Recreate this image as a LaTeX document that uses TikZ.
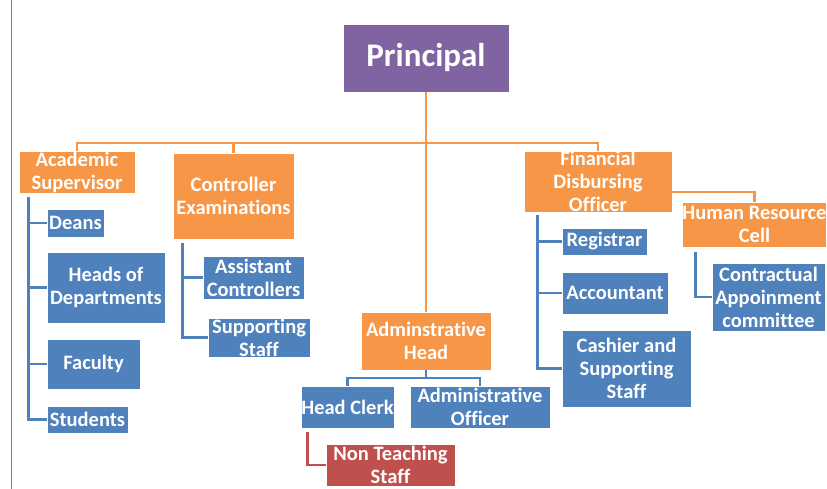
\documentclass[tikz,border=0pt]{standalone}
\usepackage{fontspec}
\setmainfont[Ligatures=NoCommon]{Carlito}
\definecolor{orng}{HTML}{F79646}
\definecolor{blu}{HTML}{4F81BD}
\definecolor{purp}{HTML}{8064A2}
\definecolor{rd}{HTML}{C0504D}
\tikzset{bx/.style = {draw=white, line width=0.4pt, inner sep=0pt, text=white, align=center,
                      font=\fontsize{20.5}{23}\selectfont\bfseries},
           ob/.style = {bx, fill=orng},
           bb/.style = {bx, fill=blu},
           rb/.style = {bx, fill=rd},
           pb/.style = {bx, fill=purp, font=\fontsize{33}{36}\selectfont\bfseries},
           ol/.style = {draw=orng, line width=2.8pt},
           bl/.style = {draw=blu, line width=2.8pt},
           rl/.style = {draw=rd, line width=2.8pt}}
\begin{document}
\begin{tikzpicture}[x=1pt, y=-1pt]
    \useasboundingbox (0,0) rectangle (827,489);
    \draw[gray, line width=0.8pt] (11,0) -- (11,489);
    \node[pb, minimum width=166pt, minimum height=68pt] (prin) at (426,58) {Principal};
    \node[ob, minimum width=116pt, minimum height=42pt] (acad) at (77,172) {Academic\\Supervisor};
    \node[ob, minimum width=121pt, minimum height=86pt] (ctrl) at (233.5,196) {Controller\\Examinations};
    \node[ob, minimum width=148pt, minimum height=61pt] (fin) at (598,181.5) {Financial\\Disbursing\\Officer};
    \node[ob, minimum width=143pt, minimum height=45pt] (hr) at (754.5,224.5) {Human Resource\\Cell};
    \node[ob, minimum width=130pt, minimum height=58pt] (adm) at (426,341) {Adminstrative\\Head};
    \node[bb, minimum width=57pt, minimum height=28pt] (deans) at (75.5,223) {Deans};
    \node[bb, minimum width=118pt, minimum height=71pt] (hod) at (106,287.5) {Heads of\\Departments};
    \node[bb, minimum width=93pt, minimum height=50pt] (fac) at (93.5,364) {Faculty};
    \node[bb, minimum width=81pt, minimum height=27pt] (stud) at (87.5,419.5) {Students};
    \node[bb, minimum width=101pt, minimum height=43pt] (asst) at (253.5,277.5) {Assistant\\Controllers};
    \node[bb, minimum width=102pt, minimum height=39pt] (sup) at (259,337.5) {Supporting\\Staff};
    \node[bb, minimum width=85pt, minimum height=27pt] (reg) at (604.5,241.5) {Registrar};
    \node[bb, minimum width=106pt, minimum height=42pt] (acc) at (615,293) {Accountant};
    \node[bb, minimum width=129pt, minimum height=77pt] (cash) at (626.5,368.5) {Cashier and\\Supporting\\Staff};
    \node[bb, minimum width=113pt, minimum height=68pt] (cont) at (768.5,297) {Contractual\\Appoinment\\committee};
    \node[bb, minimum width=93pt, minimum height=42pt] (clerk) at (347.5,407) {Head Clerk};
    \node[bb, minimum width=140pt, minimum height=42pt] (aoff) at (480,407) {Administrative\\Officer};
    \node[rb, minimum width=129pt, minimum height=42pt] (nts) at (390.5,465) {Non Teaching\\Staff};
    % principal to heads
    \coordinate (bus) at (426,143);
    \draw[ol] (prin.south) -- (adm.north);
    \draw[ol] (bus) -| (acad.north);
    \draw[ol] (bus) -| (ctrl.north);
    \draw[ol] (bus) -| (fin.north);
    \draw[ol] ([yshift=-10.5pt]fin.east) -| (hr.north);
    % academic supervisor
    \draw[bl] ([xshift=10pt,yshift=-4pt]acad.south west) |- (stud.west);
    \draw[bl] ([xshift=10pt]acad.south west |- deans.west) -- (deans.west);
    \draw[bl] ([xshift=10pt]acad.south west |- hod.west) -- (hod.west);
    \draw[bl] ([xshift=10pt]acad.south west |- fac.west) -- (fac.west);
    % controller
    \draw[bl] ([xshift=10pt,yshift=-4pt]ctrl.south west) |- (sup.west);
    \draw[bl] ([xshift=10pt]ctrl.south west |- asst.west) -- (asst.west);
    % financial
    \draw[bl] ([xshift=14pt,yshift=-3pt]fin.south west) |- (cash.west);
    \draw[bl] ([xshift=14pt]fin.south west |- reg.west) -- (reg.west);
    \draw[bl] ([xshift=14pt]fin.south west |- acc.west) -- (acc.west);
    % hr
    \draw[bl] ([xshift=13pt,yshift=-5pt]hr.south west) |- (cont.west);
    % admin head
    \coordinate (admbus) at (426,378);
    \draw[bl] (adm.south) -- (admbus) -| (clerk.north);
    \draw[bl] (admbus) -| (aoff.north);
    \draw[rl] ([xshift=7pt,yshift=-4pt]clerk.south west) |- (nts.west);
\end{tikzpicture}
\end{document}
